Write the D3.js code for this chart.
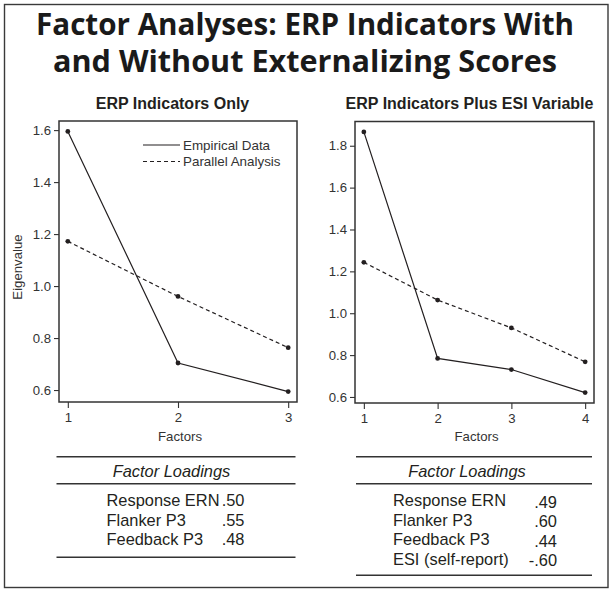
<!DOCTYPE html>
<html><head><meta charset="utf-8">
<script src="https://cdn.jsdelivr.net/npm/d3@7"></script>
<style>
html,body{margin:0;padding:0;background:#fff;}
svg{display:block;}
</style></head>
<body>
<svg id="chart" width="612" height="593"></svg>
<script>
// ---- data ----
const titleLines = ["Factor Analyses: ERP Indicators With", "and Without Externalizing Scores"];
const panelTitles = ["ERP Indicators Only", "ERP Indicators Plus ESI Variable"];
const factorsA = [1, 2, 3];
const empiricalA = [1.595, 0.704, 0.594];
const parallelA = [1.172, 0.960, 0.763];
const yTicksA = [0.6, 0.8, 1.0, 1.2, 1.4, 1.6];
const factorsB = [1, 2, 3, 4];
const empiricalB = [1.866, 0.784, 0.731, 0.621];
const parallelB = [1.243, 1.063, 0.930, 0.768];
const yTicksB = [0.6, 0.8, 1.0, 1.2, 1.4, 1.6, 1.8];
const legendLabels = ["Empirical Data", "Parallel Analysis"];
const loadingsNamesA = ["Response ERN", "Flanker P3", "Feedback P3"];
const loadingsValsA = [".50", ".55", ".48"];
const loadingsNamesB = ["Response ERN", "Flanker P3", "Feedback P3", "ESI (self-report)"];
const loadingsValsB = [".49", ".60", ".44", "-.60"];

const svg = d3.select("#chart");
const ink = "#231f20";
const font = "'Liberation Sans', Arial, Helvetica, sans-serif";

// outer frame
svg.append("rect").attr("x", 4.5).attr("y", 4.5).attr("width", 603.5).attr("height", 583)
  .attr("fill", "none").attr("stroke", "#3a3a3a").attr("stroke-width", 1.4);

// title
const tY = [35, 72];
titleLines.forEach((t, i) => {
  svg.append("text").attr("x", 305).attr("y", tY[i]).attr("text-anchor", "middle")
    .attr("font-family", "'Open Sans', 'DejaVu Sans', sans-serif").attr("font-weight", 700)
    .attr("font-size", 29.5).attr("fill", "#1a1a1a")
    .attr("textLength", i === 0 ? 538 : 504).attr("lengthAdjust", "spacingAndGlyphs")
    .text(t);
});

function panel(cfg) {
  const {x0, x1, y0, y1, factors, emp, par, yTicks, title, titleX, legend} = cfg;
  const all = emp.concat(par);
  const ymin = d3.min(all), ymax = d3.max(all);
  const yp = (ymax - ymin) * 0.04;
  const xmin = d3.min(factors), xmax = d3.max(factors);
  const xp = (xmax - xmin) * 0.04;
  const x = d3.scaleLinear().domain([xmin - xp, xmax + xp]).range([x0, x1]);
  const y = d3.scaleLinear().domain([ymin - yp, ymax + yp]).range([y1, y0]);
  const g = svg.append("g");

  g.append("text").attr("x", titleX).attr("y", 108.5).attr("text-anchor", "middle")
    .attr("font-family", font).attr("font-weight", 700).attr("font-size", 16)
    .attr("fill", ink).text(title);

  // axes
  const ya = g.append("g").attr("transform", `translate(${x0},0)`)
    .call(d3.axisLeft(y).tickValues(yTicks).tickFormat(d3.format(".1f")).tickSize(5).tickPadding(3));
  const xa = g.append("g").attr("transform", `translate(0,${y1})`)
    .call(d3.axisBottom(x).tickValues(factors).tickFormat(d3.format("d")).tickSize(6).tickPadding(5));
  [ya, xa].forEach(a => {
    a.select(".domain").remove();
    a.selectAll("line").attr("stroke", "#333").attr("stroke-width", 1.1);
    a.selectAll("text").attr("font-family", font).attr("font-size", 13.2).attr("fill", "#333");
  });

  g.append("text").attr("x", (x0 + x1) / 2 + 2).attr("y", 441).attr("text-anchor", "middle")
    .attr("font-family", font).attr("font-size", 13.2).attr("fill", "#333").text("Factors");

  // lines
  const line = d3.line().x((d, i) => x(factors[i])).y(d => y(d));
  g.append("path").datum(emp).attr("d", line).attr("fill", "none")
    .attr("stroke", ink).attr("stroke-width", 1.2);
  g.append("path").datum(par).attr("d", line).attr("fill", "none")
    .attr("stroke", ink).attr("stroke-width", 1.2).attr("stroke-dasharray", "4,3");
  [emp, par].forEach(s => {
    g.selectAll(null).data(s).enter().append("circle")
      .attr("cx", (d, i) => x(factors[i])).attr("cy", d => y(d)).attr("r", 2.4).attr("fill", ink);
  });

  // box
  g.append("rect").attr("x", x0).attr("y", y0).attr("width", x1 - x0).attr("height", y1 - y0)
    .attr("fill", "none").attr("stroke", "#333").attr("stroke-width", 1.5);

  if (legend) {
    legendLabels.forEach((lab, i) => {
      const ly = 145 + i * 16.5;
      g.append("line").attr("x1", 143).attr("x2", 180).attr("y1", ly).attr("y2", ly)
        .attr("stroke", ink).attr("stroke-width", 1.2)
        .attr("stroke-dasharray", i === 1 ? "4,3" : null);
      g.append("text").attr("x", 183).attr("y", ly + 4.5).attr("font-family", font)
        .attr("font-size", 13.4).attr("fill", "#333").text(lab);
    });
  }
}

panel({x0: 59, x1: 297, y0: 121, y1: 402, factors: factorsA, emp: empiricalA, par: parallelA,
  yTicks: yTicksA, title: panelTitles[0], titleX: 172.5, legend: true});
panel({x0: 355, x1: 594, y0: 121.5, y1: 403, factors: factorsB, emp: empiricalB, par: parallelB,
  yTicks: yTicksB, title: panelTitles[1], titleX: 469.5, legend: false});

// y-axis title (left panel)
svg.append("text").attr("transform", "translate(22,267) rotate(-90)").attr("text-anchor", "middle")
  .attr("font-family", font).attr("font-size", 13.2).attr("fill", "#333").text("Eigenvalue");

// ---- loading tables ----
function table(cfg) {
  const {lx0, lx1, names, vals, nameX, valX, bottomY, titleX} = cfg;
  const g = svg.append("g");
  [456.7, 483.8].forEach(yy => g.append("line").attr("x1", lx0).attr("x2", lx1)
    .attr("y1", yy).attr("y2", yy).attr("stroke", "#333").attr("stroke-width", 1.5));
  g.append("line").attr("x1", lx0).attr("x2", lx1).attr("y1", bottomY).attr("y2", bottomY)
    .attr("stroke", "#333").attr("stroke-width", 1.5);
  g.append("text").attr("x", titleX).attr("y", 476.5).attr("text-anchor", "middle")
    .attr("font-family", font).attr("font-style", "italic").attr("font-size", 16.4)
    .attr("fill", ink).text("Factor Loadings");
  names.forEach((n, i) => {
    const by = 506 + i * 19.6;
    g.append("text").attr("x", nameX).attr("y", by).attr("font-family", font)
      .attr("font-size", 16.4).attr("fill", ink).text(n);
    g.append("text").attr("x", valX).attr("y", by + cfg.valDy).attr("text-anchor", "end")
      .attr("font-family", font).attr("font-size", 16.4).attr("fill", ink).text(vals[i]);
  });
}
table({lx0: 56.5, lx1: 295.5, names: loadingsNamesA, vals: loadingsValsA, nameX: 106.5,
  valX: 244.5, bottomY: 557.3, titleX: 171.5, valDy: 0});
table({lx0: 356, lx1: 592, names: loadingsNamesB, vals: loadingsValsB, nameX: 393,
  valX: 557, bottomY: 575.2, titleX: 467, valDy: 1.5});
</script>
</body></html>
